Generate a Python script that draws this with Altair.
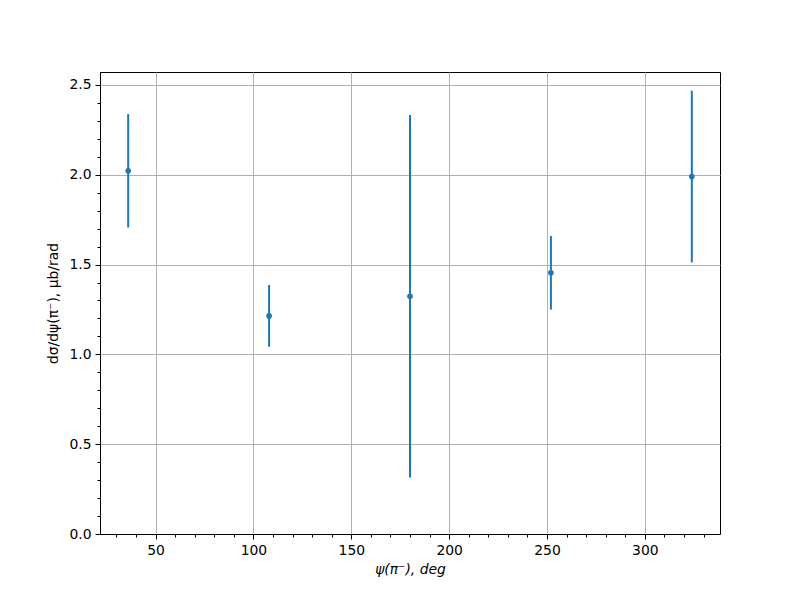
import altair as alt
import pandas as pd

psi = [36, 108, 180, 252, 324]
val = [2.022, 1.214, 1.323, 1.454, 1.990]
err = [0.316, 0.172, 1.009, 0.205, 0.478]

x_major = [50, 100, 150, 200, 250, 300]
x_minor = list(range(30, 340, 10))
y_major = [0.0, 0.5, 1.0, 1.5, 2.0, 2.5]
y_minor = [round(i * 0.1, 1) for i in range(0, 26)]

df = pd.DataFrame({
    "psi": psi,
    "val": val,
    "lo": [v - e for v, e in zip(val, err)],
    "hi": [v + e for v, e in zip(val, err)],
})

FONT = "DejaVu Sans"
BLUE = "#1f77b4"

xscale = alt.Scale(domain=[21.6, 338.4], nice=False, zero=False)
yscale = alt.Scale(domain=[0, 2.572], nice=False, zero=False)

major_x = alt.Axis(values=x_major, title="ψ(π⁻), deg", grid=True, gridColor="#b0b0b0",
                   gridWidth=1, tickSize=5, tickColor="black", domainColor="black",
                   labelFont=FONT, labelFontSize=13.9, labelColor="black", labelPadding=4,
                   titleFont=FONT, titleFontSize=13.9, titleFontWeight="normal",
                   titleFontStyle="italic", titleColor="black", titlePadding=6,
                   labelFlush=False, orient="bottom")
major_y = alt.Axis(values=y_major, title="dσ/dψ(π⁻), μb/rad", format=".1f", grid=True,
                   gridColor="#b0b0b0", gridWidth=1, tickSize=5, tickColor="black",
                   domainColor="black", labelFont=FONT, labelFontSize=13.9, labelColor="black",
                   labelPadding=4, titleFont=FONT, titleFontSize=13.9, titleFontWeight="normal",
                   titleColor="black", titlePadding=8, labelFlush=False, orient="left")
minor_x = alt.Axis(values=x_minor, labels=False, title=None, grid=False, domain=False,
                   tickSize=3, tickColor="black", orient="bottom")
minor_y = alt.Axis(values=y_minor, labels=False, title=None, grid=False, domain=False,
                   tickSize=3, tickColor="black", orient="left")

base = alt.Chart(df)

bars = base.mark_rule(color=BLUE, strokeWidth=2).encode(
    x=alt.X("psi:Q", scale=xscale, axis=major_x),
    y=alt.Y("lo:Q", scale=yscale, axis=major_y),
    y2="hi:Q",
)

points = base.mark_circle(color=BLUE, size=32, opacity=1).encode(
    x=alt.X("psi:Q", scale=xscale, axis=minor_x),
    y=alt.Y("val:Q", scale=yscale, axis=minor_y),
)

chart = alt.layer(bars, points).resolve_axis(x="independent", y="independent").properties(
    width=620, height=462,
    autosize=alt.AutoSizeParams(type="none"),
    padding={"left": 92, "top": 64, "right": 72, "bottom": 58},
).configure_view(stroke="black", strokeWidth=1)

chart.save("out.html", embed_options={"renderer": "svg", "actions": False})
